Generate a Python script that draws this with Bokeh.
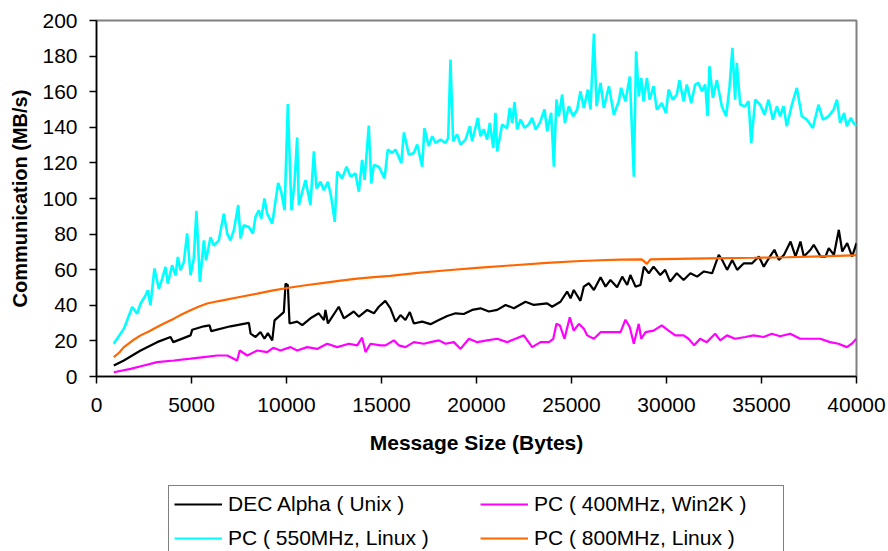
from bokeh.plotting import figure
from bokeh.models import Range1d, FixedTicker, Legend, LegendItem
from bokeh.layouts import column
from bokeh.embed import file_html
from bokeh.resources import INLINE

# ---------------- data ----------------
x_ticks = [0, 5000, 10000, 15000, 20000, 25000, 30000, 35000, 40000]
y_ticks = [0, 20, 40, 60, 80, 100, 120, 140, 160, 180, 200]

series_names = ["DEC Alpha ( Unix )", "PC ( 400MHz, Win2K )",
                "PC ( 550MHz, Linux )", "PC ( 800MHz, Linux )"]
series_colors = ["black", "#FF00FF", "#00FFFF", "#FF6600"]

dec_x = [910, 1440, 2320, 3190, 3900, 4040, 4950, 5040, 5650, 5950, 6040, 7050, 8020, 8110,
         8370, 8630, 8840, 9020, 9250, 9370, 9860, 9950, 10070, 10160, 10560, 10830, 11260,
         11700, 11970, 12050, 12180, 12750, 13020, 13540, 13810, 14250, 14600, 14860, 15200,
         15470, 15740, 16000, 16260, 16490, 16700, 17140, 17580, 18020, 18460, 18900, 19330,
         19770, 20210, 20650, 21090, 21530, 21970, 22580, 23020, 23720, 23980, 24420, 24770,
         24950, 25120, 25470, 25650, 25910, 26180, 26530, 26790, 27050, 27400, 27670, 27930,
         28100, 28370, 28630, 28810, 29070, 29320, 29670, 29930, 30190, 30540, 30900, 31260,
         31610, 31970, 32400, 32750, 32930, 33190, 33460, 33720, 34070, 34510, 34860, 35120,
         35390, 35680, 35910, 36180, 36530, 36790, 37050, 37230, 37580, 37750, 38110, 38370,
         38540, 38810, 39070, 39250, 39510, 39770, 40000]
dec_y = [6.2, 9, 14.6, 19.3, 22.2, 19.3, 23.1, 26.3, 28.2, 28.7, 25.5, 28.2, 30.1, 24.1,
         22.2, 25, 21.2, 24.4, 20.3, 31.5, 36.2, 52.2, 51.3, 29.8, 30.8, 28.9, 32.7,
         35.5, 31.7, 37.4, 29.8, 39.2, 32.7, 36.5, 33.6, 37.4, 35.5, 39.2, 42.5,
         38.3, 30.8, 34.5, 31.7, 36.2, 29.8, 30.8, 29.4, 31.7, 34, 35.5, 35.1,
         37.4, 38.3, 36.5, 37.4, 40.2, 38.3, 42, 40.2, 41.1, 39.2, 42, 47.7,
         43.9, 48.6, 42.5, 50.5, 52.4, 48.6, 55.7, 50.5, 54.2, 50.1, 56.1, 51.4,
         57, 50.5, 51.4, 61.7, 58, 61.7, 57, 59.9, 53.3, 58, 54.2, 58,
         56.1, 59, 58, 68.3, 65.5, 59.9, 65.5, 59.9, 63.6, 63.6, 67.4, 61.7,
         66.5, 71.2, 65.5, 68.3, 75.8, 67.4, 75.8, 67.4, 71.2, 74, 67.4, 67.4,
         72.1, 68.3, 82.4, 70.2, 74.9, 67.4, 74.9]

pc400_x = [910, 1790, 2490, 3190, 4070, 4950, 5650, 6350, 6880, 7400, 7540, 7930, 8460, 8980,
           9300, 9680, 10210, 10560, 11090, 11610, 12140, 12670, 13280, 13720, 13980, 14160,
           14420, 14950, 15210, 15650, 15910, 16260, 16700, 17230, 17580, 18020, 18370, 18810,
           19160, 19600, 20040, 20560, 21090, 21610, 22050, 22490, 22930, 23370, 23810, 24040,
           24210, 24390, 24630, 24910, 25120, 25390, 25650, 25830, 26180, 26530, 27050, 27580,
           27840, 28070, 28280, 28540, 28670, 28900, 29320, 29750, 30110, 30460, 30900, 31160,
           31460, 31770, 32120, 32560, 32830, 33180, 33610, 34140, 34580, 35110, 35540, 35980,
           36510, 37040, 37560, 38090, 38610, 39050, 39490, 39750, 40000]
pc400_y = [2.4, 4.3, 6.2, 8.1, 9, 10, 10.9, 11.8, 11.8, 9, 14.6, 11.8, 14.6, 13.7,
           16.1, 14.6, 16.5, 14.6, 16.5, 15.5, 18.4, 16.5, 18.4, 17.5, 21.8, 13.7,
           18.4, 17.5, 17.5, 20.3, 17.5, 16.5, 19.3, 18.4, 19.3, 20.3, 18.4, 19.3,
           15.5, 21.2, 19.3, 20.3, 21.2, 19.3, 21.2, 23.1, 16.5, 19.3, 19.3, 21.2,
           29.6, 28.7, 21.2, 33.3, 25.8, 29.6, 26.8, 23.1, 21.2, 24.9, 24.9, 24.9,
           31.9, 27.7, 18.4, 29.6, 21.2, 24.9, 25.8, 28.7, 25.8, 23.1, 23.1, 21.2,
           17.5, 21.2, 19.3, 24, 20.3, 23.1, 21.2, 22.2, 23.1, 22.2, 24, 22.6,
           24, 21.2, 21.2, 21.2, 19.3, 18.4, 16.5, 18.4, 21.2]

pc550_x = [910, 1440, 1610, 1880, 2140, 2320, 2580, 2700, 2840, 3050, 3280, 3460, 3630, 3750,
           3980, 4160, 4280, 4420, 4600, 4770, 4950, 5120, 5260, 5440, 5650, 5770, 6000, 6180,
           6440, 6700, 6880, 7050, 7230, 7460, 7580, 7750, 8020, 8230, 8370, 8540, 8670, 8840,
           8980, 9250, 9560, 9720, 9900, 10070, 10260, 10420, 10560, 10650, 10830, 11000, 11260,
           11440, 11580, 11790, 11970, 12180, 12350, 12540, 12670, 12930, 13160, 13370, 13630,
           13810, 13980, 14110, 14330, 14460, 14600, 14860, 15160, 15330, 15560, 15740, 16040,
           16180, 16440, 16700, 16880, 17140, 17260, 17490, 17670, 17840, 18110, 18370, 18510,
           18630, 18770, 18980, 19160, 19420, 19650, 19770, 20070, 20210, 20390, 20560, 20700,
           20880, 21000, 21090, 21350, 21610, 21750, 21880, 22000, 22140, 22320, 22530, 22750,
           22930, 23110, 23330, 23580, 23720, 23930, 24070, 24210, 24330, 24510, 24650, 24860,
           25090, 25300, 25470, 25650, 25860, 26000, 26180, 26320, 26530, 26700, 26970, 27230,
           27490, 27610, 27840, 28070, 28280, 28400, 28540, 28670, 28790, 28970, 29110, 29320,
           29490, 29750, 29970, 30110, 30330, 30540, 30680, 30900, 31070, 31300, 31510, 31680,
           31860, 32040, 32160, 32260, 32440, 32650, 32910, 33140, 33320, 33470, 33610, 33700,
           33880, 34140, 34320, 34460, 34670, 34930, 35160, 35370, 35600, 35810, 35980, 36160,
           36330, 36600, 36860, 37120, 37390, 37700, 38000, 38230, 38530, 38790, 38970, 39140,
           39350, 39490, 39700, 39840, 40000]
pc550_y = [18.4, 26.9, 31.5, 39, 35.3, 41, 45.6, 48.4, 40, 60.7, 49.3, 55, 61.6, 52.2,
           62.5, 56.9, 67.2, 59.7, 64.4, 80.4, 56.9, 66.3, 93.1, 53.1, 76.5, 65.3, 78.3, 73.6,
           76.5, 91.5, 80.3, 76.5, 82.2, 96.3, 77.5, 85, 84, 80.3, 89.7, 93.4, 88.7, 100,
           91.5, 85.9, 108.8, 103.8, 93.4, 153, 93.4, 108.5, 134.3, 96.3, 103.8, 110.4, 96.3,
           126.5, 105.6, 109.4, 104.7, 109.4, 101, 86.9, 115.1, 111.3, 117.9, 112.3, 114.1,
           103.8, 121.7, 110.4, 141, 108.5, 118.9, 117.9, 111.3, 127.5, 125.6, 127.5, 119.9,
           137.1, 124.6, 125.6, 130.3, 117.9, 139.5, 129.4, 135, 131.3, 133.1, 131.3, 134.1,
           178, 132.2, 136, 130.3, 133.1, 140.6, 132.2, 145.3, 135, 138.8, 133.1, 142.5,
           128.4, 148.1, 126.5, 141.6, 139.5, 150.9, 142.5, 154.1, 138.8, 144.4, 139.7, 141.6,
           145.3, 138.8, 142.5, 150, 137.8, 148.1, 117.9, 155.6, 146.2, 158.4, 142.5, 151.8,
           146.2, 150, 160.3, 150.9, 161.2, 150, 192.7, 151.8, 165, 150.9, 163.1, 147.1,
           154.6, 162.2, 154.6, 168.5, 112.3, 182.7, 157.4, 167.6, 154.6, 167.6, 155.5, 163.1,
           149.9, 153.7, 148.1, 161.2, 155.5, 158.4, 166.5, 154.6, 164, 153.7, 164, 165,
           160.3, 164, 146.2, 174.3, 156.5, 166.5, 151.8, 146.2, 163.1, 184.6, 155.5, 176.2,
           152.7, 151.8, 154.6, 131.2, 155.5, 152.7, 147.1, 155.5, 144.3, 151.8, 146.2, 151.8,
           140.6, 152.7, 162.1, 146.2, 144.3, 139.6, 152.7, 144.3, 146.2, 149.9, 155.5, 142.5,
           148.1, 140.6, 145.3, 142.5, 140.6]

pc800_x = [910, 1200, 1440, 1900, 2320, 2750, 3190, 3600, 4070, 4500, 4950, 5400, 5820, 6250,
           6700, 7600, 8460, 9300, 10210, 11100, 11970, 12850, 13720, 14600, 15470, 16900,
           18460, 20200, 21970, 23700, 25470, 26500, 27580, 28700, 28970, 29150, 30500, 32910,
           34600, 36330, 38100, 39840, 40000]
pc800_y = [10.9, 13.5, 16.5, 20.2, 23.1, 25.3, 27.8, 30, 32.5, 35, 37.2, 39.3, 41, 42,
           42.9, 44.8, 46.6, 48.4, 50, 51.4, 52.6, 53.9, 55, 55.8, 56.5, 58.2,
           59.7, 61.2, 62.5, 63.8, 64.9, 65.3, 65.7, 65.8, 63.3, 65.8, 66.1, 66.5,
           66.7, 67, 67.5, 68, 68.3]

series_x = [dec_x, pc400_x, pc550_x, pc800_x]
series_y = [dec_y, pc400_y, pc550_y, pc800_y]
series_widths = [2.2, 2.2, 2.6, 2.2]

# ---------------- main chart ----------------
FONT = "Liberation Sans"

p = figure(width=888, height=480, output_backend="svg", toolbar_location=None,
           x_range=Range1d(0, 40000), y_range=Range1d(0, 200),
           min_border_left=96, min_border_right=32, min_border_top=20, min_border_bottom=104)
p.background_fill_color = "white"
p.border_fill_color = "white"
p.outline_line_color = "#808080"
p.outline_line_width = 2
p.xgrid.visible = False
p.ygrid.visible = False

for xs, ys, c, w in zip(series_x, series_y, series_colors, series_widths):
    p.line(xs, ys, line_color=c, line_width=w)

for ax, ticks in ((p.xaxis[0], x_ticks), (p.yaxis[0], y_ticks)):
    ax.ticker = FixedTicker(ticks=ticks)
    ax.minor_tick_line_color = None
    ax.major_tick_in = 0
    ax.major_tick_out = 7
    ax.axis_line_color = "black"
    ax.axis_line_width = 1.5
    ax.major_tick_line_color = "black"
    ax.major_tick_line_width = 1.5
    ax.major_label_text_font = FONT
    ax.major_label_text_font_size = "21px"
    ax.major_label_text_color = "black"
    ax.axis_label_text_font = FONT
    ax.axis_label_text_font_style = "bold"
    ax.axis_label_text_color = "black"

p.xaxis[0].axis_label = "Message Size (Bytes)"
p.yaxis[0].axis_label = "Communication (MB/s)"
p.xaxis[0].axis_label_text_font_size = "21px"
p.yaxis[0].axis_label_text_font_size = "20px"
p.xaxis[0].major_label_standoff = 14
p.xaxis[0].axis_label_standoff = 16
p.yaxis[0].major_label_standoff = 12
p.yaxis[0].axis_label_standoff = 8

# ---------------- legend strip ----------------
lg = figure(width=888, height=71, output_backend="svg", toolbar_location=None,
            x_range=Range1d(0, 1), y_range=Range1d(0, 1), min_border=0)
lg.axis.visible = False
lg.xgrid.visible = False
lg.ygrid.visible = False
lg.outline_line_color = None
lg.background_fill_color = "white"
lg.border_fill_color = "white"

leg_r = []
for xs, ys, c in zip(series_x, series_y, series_colors):
    leg_r.append(lg.line(xs, ys, line_color=c, line_width=2.2, visible=False))

order = [0, 2, 1, 3]
legend = Legend(items=[LegendItem(label=series_names[i], renderers=[leg_r[i]]) for i in order],
                location=(72, -6), orientation="vertical", nrows=2)
legend.label_text_font = FONT
legend.label_text_font_size = "21px"
legend.label_text_color = "black"
legend.glyph_width = 48
legend.glyph_height = 26
legend.label_height = 26
legend.label_width = 244
legend.label_standoff = 6
legend.spacing = 8
legend.padding = 5
legend.margin = 0
legend.border_line_color = "black"
legend.border_line_width = 1
legend.background_fill_color = "white"
legend.background_fill_alpha = 1
lg.add_layout(legend, "center")

layout = column(p, lg, spacing=0)
open("out.html", "w").write(file_html(layout, INLINE))
